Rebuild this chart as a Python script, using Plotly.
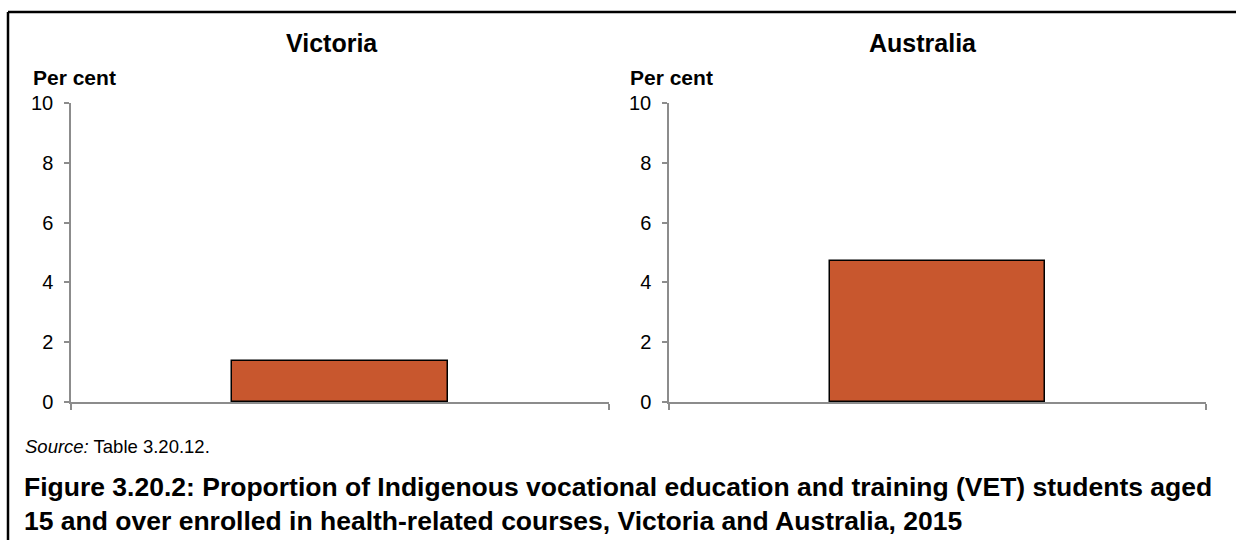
import plotly.graph_objects as go

W = 1236
H = 552

panels = ["Victoria", "Australia"]
categories = [0]
victoria_values = [1.37]
australia_values = [4.72]
y_ticks = [0, 2, 4, 6, 8, 10]
y_label = "Per cent"
source_text = "<i>Source:</i> Table 3.20.12."
caption_lines = [
    "Figure 3.20.2: Proportion of Indigenous vocational education and training (VET) students aged",
    "15 and over enrolled in health-related courses, Victoria and Australia, 2015",
]

BAR = "#C8572E"
AX = "#8C8C8C"
FONT = "Liberation Sans, Arial, sans-serif"

def px(x):
    return x / W

def py(y):
    # target picture row -> paper fraction (the photographed page maps rows as 0.96*y + 11)
    yp = (y - 11) / 0.96
    return (H - yp) / H

fig = go.Figure()
fig.add_trace(go.Bar(x=categories, y=victoria_values, width=0.4,
                     marker=dict(color=BAR, line=dict(color="#000000", width=1.5)),
                     xaxis="x", yaxis="y", showlegend=False))
fig.add_trace(go.Bar(x=categories, y=australia_values, width=0.4,
                     marker=dict(color=BAR, line=dict(color="#000000", width=1.5)),
                     xaxis="x2", yaxis="y2", showlegend=False))

xcommon = dict(type="linear", range=[-0.5, 0.5], tickvals=[-0.5, 0.5], ticktext=["", ""], ticks="outside", ticklen=6,
               tickcolor=AX, tickwidth=1.5, showline=True, linecolor=AX, linewidth=1.5, showgrid=False,
               zeroline=False, fixedrange=True)
ycommon = dict(range=[0, 10], tickvals=y_ticks, ticks="outside", ticklen=5, tickcolor=AX, tickwidth=1.5,
               showline=True, linecolor=AX, linewidth=1.5, showgrid=False, zeroline=False, fixedrange=True,
               tickfont=dict(family=FONT, size=20, color="#000000"), ticklabelstandoff=7)

yd = [py(402), py(103)]
fig.update_layout(
    width=W, height=H,
    margin=dict(l=0, r=0, t=0, b=0),
    paper_bgcolor="white", plot_bgcolor="white",
    xaxis=dict(domain=[px(71), px(609)], anchor="y", **xcommon),
    yaxis=dict(domain=yd, anchor="x", **ycommon),
    xaxis2=dict(domain=[px(669), px(1206)], anchor="y2", **xcommon),
    yaxis2=dict(domain=yd, anchor="x2", **ycommon),
    bargap=0,
)

ann = [
    dict(text="<b>" + panels[0] + "</b>", x=px(332), y=py(43), xanchor="center", yanchor="middle", font=dict(size=25)),
    dict(text="<b>" + panels[1] + "</b>", x=px(923), y=py(43), xanchor="center", yanchor="middle", font=dict(size=25)),
    dict(text="<b>" + y_label + "</b>", x=px(31), y=py(77), xanchor="left", yanchor="middle", font=dict(size=21)),
    dict(text="<b>" + y_label + "</b>", x=px(628), y=py(77), xanchor="left", yanchor="middle", font=dict(size=21)),
    dict(text=source_text, x=px(23), y=py(446), xanchor="left", yanchor="middle", font=dict(size=18.5)),
    dict(text="<b>" + caption_lines[0] + "<br>" + caption_lines[1] + "</b>", x=px(22), y=py(504),
         xanchor="left", yanchor="middle", align="left", font=dict(size=26.5)),
]
for a in ann:
    a.update(xref="paper", yref="paper", showarrow=False)
    a["font"].update(family=FONT, color="#000000")
fig.update_layout(annotations=ann)

fig.add_shape(type="line", xref="paper", yref="paper", x0=px(8), x1=1, y0=py(12), y1=py(12),
              line=dict(color="#000000", width=2.5))
fig.add_shape(type="line", xref="paper", yref="paper", x0=px(8), x1=px(8), y0=py(12), y1=0,
              line=dict(color="#000000", width=2.5))

fig.write_html("out.html", config={"displayModeBar": False},
               post_script="document.body.style.margin='0';")
